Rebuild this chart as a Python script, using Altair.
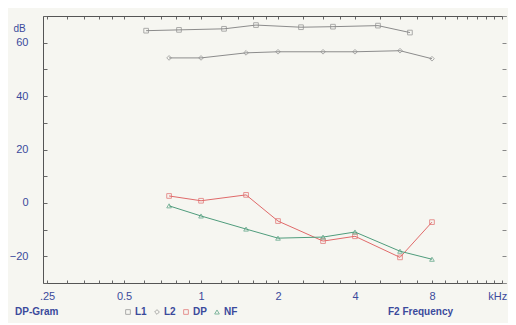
import altair as alt
import pandas as pd

series = ["L1", "L2", "DP", "NF"]
f2 = [0.75, 1, 1.5, 2, 3, 4, 6, 8]
f1 = [0.61, 0.82, 1.23, 1.64, 2.46, 3.28, 4.92, 6.56]
l1 = [64.5, 64.8, 65.2, 66.6, 65.8, 66.0, 66.4, 63.8]
l2 = [54.3, 54.3, 56.2, 56.6, 56.6, 56.6, 57.0, 54.0]
dp = [2.6, 0.8, 3.0, -6.8, -14.3, -12.5, -20.4, -7.2]
nf = [-1.1, -4.9, -9.8, -13.2, -12.8, -10.9, -18.1, -21.1]

x_ticks = [0.25, 0.3, 0.35, 0.4, 0.45, 0.5, 0.6, 0.7, 0.8, 0.9, 1, 1.2, 1.4, 1.6, 1.8,
           2, 2.5, 3, 3.5, 4, 5, 6, 7, 8, 9, 10, 11, 12, 13, 14, 15]
x_label_values = [0.25, 0.5, 1, 2, 4, 8, 14.4]
y_ticks = [-30, -20, -10, 0, 10, 20, 30, 40, 50, 60, 70]
y_labels = [-20, 0, 20, 40, 60]

rows = []
for s, fx, vals in [("L1", f1, l1), ("L2", f2, l2), ("DP", f2, dp), ("NF", f2, nf)]:
    for f, v in zip(fx, vals):
        rows.append({"series": s, "freq": f, "db": v})
df = pd.DataFrame(rows)

blue = "#3b4a9c"
font = "Liberation Sans"
W, H = 463, 267

xscale = alt.Scale(type="log", domain=[0.241, 15.58], nice=False)
yscale = alt.Scale(domain=[-30, 70], nice=False)


def legend():
    return alt.Legend(title="DP-Gram", orient="none", legendX=-28, legendY=291,
                      direction="horizontal", titleOrient="left", titlePadding=64,
                      titleColor=blue, titleFont=font, titleFontSize=10,
                      titleFontWeight="bold", labelColor=blue, labelFont=font,
                      labelFontSize=10, labelFontWeight="bold", symbolSize=22,
                      symbolStrokeWidth=1, columnPadding=5, labelOffset=2)


color = alt.Color("series:N", scale=alt.Scale(domain=series,
                  range=["#8c8c8c", "#8c8c8c", "#e06a6a", "#4f9c7c"]), legend=legend())
shape = alt.Shape("series:N", scale=alt.Scale(domain=series,
                  range=["square", "diamond", "square", "triangle-up"]), legend=legend())

label_expr = ("datum.value == 0.25 ? '.25' : datum.value == 0.5 ? '0.5' : "
              "datum.value == 1 ? '1' : datum.value == 2 ? '2' : datum.value == 4 ? '4' : "
              "datum.value == 8 ? '8' : 'kHz'")

lines = alt.Chart(df).mark_line(strokeWidth=1).encode(
    x=alt.X("freq:Q", scale=xscale,
            axis=alt.Axis(orient="bottom", values=x_label_values, labelExpr=label_expr,
                          ticks=False, grid=False, domainColor="#555", labelColor=blue,
                          labelFont=font, labelFontSize=11, labelPadding=7,
                          title="F2 Frequency", titleColor=blue, titleFont=font,
                          titleFontSize=10, titleFontWeight="bold", titleX=377, titleY=23)),
    y=alt.Y("db:Q", scale=yscale,
            axis=alt.Axis(orient="left", values=y_labels, ticks=False, grid=False,
                          domainColor="#555", labelColor=blue, labelFont=font,
                          labelFontSize=11, labelPadding=15, title="dB", titleAngle=0,
                          titleColor=blue, titleFont=font, titleFontSize=10,
                          titleFontWeight="normal", titleX=-24, titleY=17)),
    color=color,
    detail="series:N",
    order="freq:Q",
)

points = alt.Chart(df).mark_point(size=22, strokeWidth=1, filled=False).encode(
    x=alt.X("freq:Q", scale=xscale,
            axis=alt.Axis(orient="top", offset=-H, values=x_ticks, labels=False,
                          domain=False, tickSize=3, tickColor="#666", grid=False, title=None)),
    y=alt.Y("db:Q", scale=yscale,
            axis=alt.Axis(orient="right", offset=-W, values=y_ticks, labels=False,
                          domain=False, tickSize=4, tickColor="#666", grid=False, title=None)),
    color=color,
    shape=shape,
)

frame = alt.Chart(df).mark_point(opacity=0).encode(
    x=alt.X("freq:Q", scale=xscale,
            axis=alt.Axis(orient="bottom", offset=-H, values=x_ticks, labels=False,
                          domain=True, domainColor="#555", tickSize=3, tickColor="#666",
                          grid=False, title=None)),
    y=alt.Y("db:Q", scale=yscale,
            axis=alt.Axis(orient="left", offset=-W, values=y_ticks, labels=False,
                          domain=False, tickSize=4, tickColor="#888", grid=False, title=None)),
)

chart = alt.layer(lines, points, frame).resolve_axis(x="independent", y="independent").properties(
    width=W, height=H,
    autosize=alt.AutoSizeParams(type="none"),
    padding={"left": 35, "top": 8, "right": 2, "bottom": 40},
    background="#f6f6f1",
).configure_view(stroke=None)

chart.save("out.html", embed_options={"renderer": "svg", "actions": False})
